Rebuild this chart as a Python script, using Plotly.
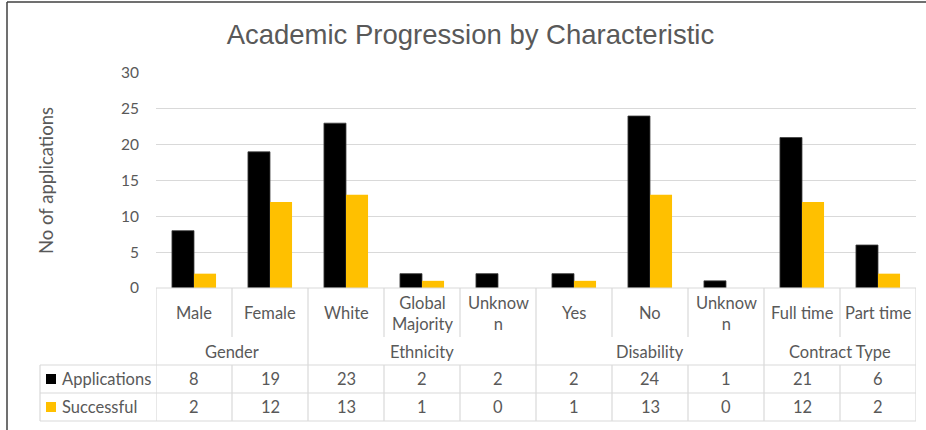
import plotly.graph_objects as go

categories = ["Male", "Female", "White", "Global<br>Majority", "Unknow<br>n",
              "Yes", "No", "Unknow<br>n", "Full time", "Part time"]
groups = ["Gender", "Ethnicity", "Disability", "Contract Type"]
group_sizes = [2, 3, 3, 2]
applications = [8, 19, 23, 2, 2, 2, 24, 1, 21, 6]
successful = [2, 12, 13, 1, 0, 1, 13, 0, 12, 2]
series_names = ["Applications", "Successful"]
colors = ["#000000", "#FFC000"]

W, H = 926, 430
L, R, T, B = 156, 10, 73, 142
PH = H - T - B
PW = W - L - R

def py(ypix):
    return (H - B - ypix) / PH

def px(xpix):
    return (xpix - L) / PW

xs = list(range(len(categories)))
fig = go.Figure()
fig.add_bar(x=xs, y=applications, name=series_names[0], marker_color=colors[0],
            marker_line=dict(color="#404040", width=0.8))
fig.add_bar(x=xs, y=successful, name=series_names[1], marker_color=colors[1],
            marker_line=dict(width=0))

font = "Lato, Calibri, 'Noto Sans', sans-serif"
txt = "#595959"
grid = "#d9d9d9"

fig.update_layout(
    width=W, height=H, margin=dict(l=L, r=R, t=T, b=B),
    paper_bgcolor="white", plot_bgcolor="white",
    barmode="group", bargap=0.42, bargroupgap=0,
    showlegend=False,
    title=dict(text="Academic Progression by Characteristic", x=0.508, xanchor="center",
               y=1 - 34 / H, yanchor="middle",
               font=dict(family="'Liberation Sans', Arial, sans-serif", size=27.5, color=txt)),
    xaxis=dict(range=[-0.5, len(categories) - 0.5], showticklabels=False, showgrid=False,
               zeroline=False, showline=False, fixedrange=True),
    yaxis=dict(range=[0, 30], dtick=5, showgrid=True, gridcolor=grid, gridwidth=1,
               zeroline=False, showline=False, ticks="", tickfont=dict(family=font, size=15.5, color=txt),
               ticklabelstandoff=16,
               title=dict(text="No of applications", font=dict(family=font, size=18.5, color=txt),
                          standoff=62)),
    font=dict(family=font, color=txt),
)

shapes = []
line = dict(color=grid, width=1.2)
shapes.append(dict(type="line", xref="paper", yref="paper", x0=0, x1=1, y0=0, y1=0, line=line))
bounds = [0]
for s in group_sizes:
    bounds.append(bounds[-1] + s)
group_bound_set = set(bounds)
for i in range(len(categories) + 1):
    xv = i - 0.5
    if i in group_bound_set:
        shapes.append(dict(type="line", xref="x", yref="paper", x0=xv, x1=xv,
                           y0=py(288), y1=py(421), line=line))
    else:
        shapes.append(dict(type="line", xref="x", yref="paper", x0=xv, x1=xv,
                           y0=py(288), y1=py(337), line=line))
        shapes.append(dict(type="line", xref="x", yref="paper", x0=xv, x1=xv,
                           y0=py(365), y1=py(421), line=line))
for yp in [365, 393, 421]:
    shapes.append(dict(type="line", xref="paper", yref="paper", x0=px(40), x1=1,
                       y0=py(yp), y1=py(yp), line=line))
shapes.append(dict(type="line", xref="paper", yref="paper", x0=px(40), x1=px(40),
                   y0=py(365), y1=py(421), line=line))
for k, yp in enumerate([379, 407]):
    shapes.append(dict(type="rect", xref="paper", yref="paper",
                       x0=px(46), x1=px(56),
                       y0=py(yp + 5), y1=py(yp - 5), fillcolor=colors[k], line=dict(width=0)))
border = dict(color="#404040", width=1.5)
shapes.append(dict(type="line", xref="paper", yref="paper", x0=px(7), x1=px(7),
                   y0=py(2), y1=py(432), line=border))
shapes.append(dict(type="line", xref="paper", yref="paper", x0=px(7), x1=px(W + 2),
                   y0=py(2), y1=py(2), line=border))
fig.update_layout(shapes=shapes)

ann = []
fs = 16.5
for i, c in enumerate(categories):
    ann.append(dict(x=i, y=py(313), xref="x", yref="paper", text=c, showarrow=False,
                    font=dict(family=font, size=fs, color=txt), yanchor="middle"))
    ann.append(dict(x=i, y=py(379), xref="x", yref="paper", text=str(applications[i]), showarrow=False,
                    font=dict(family=font, size=fs, color=txt), yanchor="middle"))
    ann.append(dict(x=i, y=py(407), xref="x", yref="paper", text=str(successful[i]), showarrow=False,
                    font=dict(family=font, size=fs, color=txt), yanchor="middle"))
for g, name in enumerate(groups):
    center = (bounds[g] + bounds[g + 1] - 1) / 2
    ann.append(dict(x=center, y=py(352), xref="x", yref="paper", text=name, showarrow=False,
                    font=dict(family=font, size=fs, color=txt), yanchor="middle"))
for k, yp in enumerate([379, 407]):
    ann.append(dict(x=px(60), y=py(yp), xref="paper", yref="paper", text=series_names[k],
                    showarrow=False, xanchor="left", yanchor="middle",
                    font=dict(family=font, size=fs, color=txt)))
fig.update_layout(annotations=ann)

fig.write_html("out.html", config={"displayModeBar": False},
               post_script="document.body.style.margin='0';")
